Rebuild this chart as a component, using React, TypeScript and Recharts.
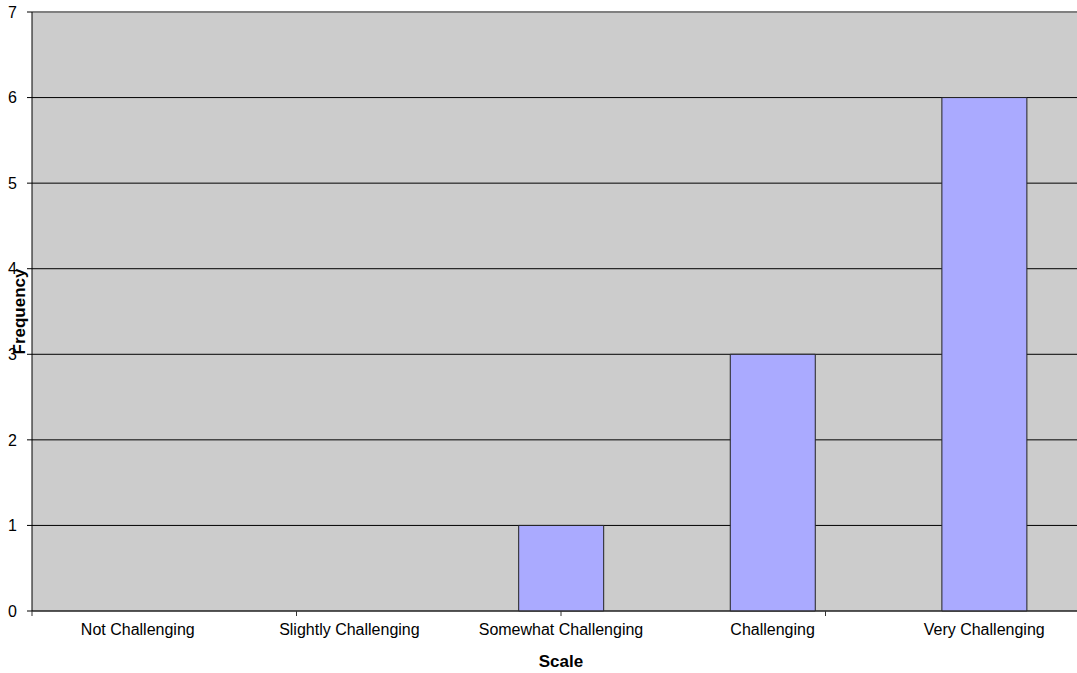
import { BarChart, Bar, XAxis, YAxis, CartesianGrid, ReferenceLine } from "recharts";

// survey answers
const categories = [
  "Not Challenging",
  "Slightly Challenging",
  "Somewhat Challenging",
  "Challenging",
  "Very Challenging",
];
const frequency = [0, 0, 1, 3, 6];
const yTicks = [0, 1, 2, 3, 4, 5, 6, 7];
const edgeTicks = [0, 1, 2, 3, 4, 5];

const data = categories.map((name, i) => ({ name, value: frequency[i] }));

const font = "'Liberation Sans', Arial, sans-serif";

const NoLabel = () => <g />;

export default function App() {
  return (
    <div
      style={{
        position: "absolute",
        left: 0,
        top: 0,
        width: 1077,
        height: 673,
        overflow: "hidden",
        background: "#fff",
        fontFamily: font,
      }}
    >
      <BarChart
        width={1090}
        height={673}
        data={data}
        margin={{ top: 12, right: 0, bottom: 0, left: 0 }}
        barCategoryGap="30%"
      >
        <CartesianGrid
          xAxisId="b"
          vertical={false}
          stroke="#000"
          strokeOpacity={1}
          fill="#cccccc"
          fillOpacity={1}
        />
        {/* boundary ticks between categories */}
        <XAxis
          xAxisId="a"
          type="number"
          domain={[0, 5]}
          ticks={edgeTicks}
          interval={0}
          tick={NoLabel}
          tickSize={5}
          height={6}
          axisLine={{ stroke: "#333" }}
          tickLine={{ stroke: "#333" }}
        />
        <XAxis
          xAxisId="b"
          dataKey="name"
          height={56}
          axisLine={false}
          tickLine={false}
          tickSize={0}
          tickMargin={7}
          tick={{ fontSize: 16, fill: "#000", fontFamily: font }}
          label={{
            value: "Scale",
            position: "insideBottom",
            offset: 6,
            fontSize: 17,
            fontWeight: "bold",
            fill: "#000",
            fontFamily: font,
          }}
        />
        <YAxis
          domain={[0, 7]}
          ticks={yTicks}
          width={32}
          tickSize={5}
          tickMargin={10}
          axisLine={{ stroke: "#000" }}
          tickLine={{ stroke: "#000" }}
          tick={{ fontSize: 16, fill: "#000", fontFamily: font }}
          label={{
            value: "Frequency",
            angle: -90,
            position: "center",
            dx: 3,
            fontSize: 17,
            fontWeight: "bold",
            fill: "#000",
            fontFamily: font,
          }}
        />
        <ReferenceLine xAxisId="b" y={7} stroke="#808080" strokeWidth={2} />
        <Bar
          xAxisId="b"
          dataKey="value"
          fill="#aaaaff"
          stroke="#222"
          strokeWidth={1}
          isAnimationActive={false}
        />
      </BarChart>
    </div>
  );
}
